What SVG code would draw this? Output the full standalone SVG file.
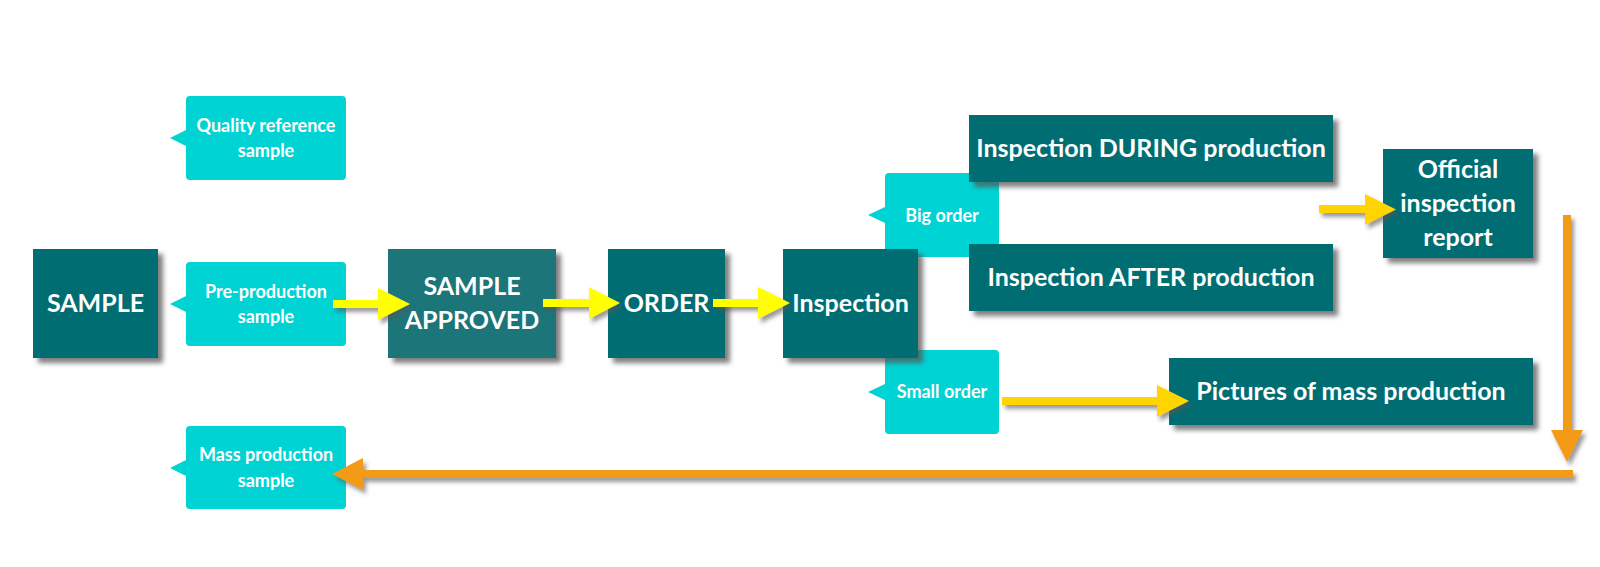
<svg xmlns="http://www.w3.org/2000/svg" width="1600" height="567" viewBox="0 0 1600 567">
  <defs>
    <filter id="sh" x="-10%" y="-20%" width="130%" height="150%">
      <feDropShadow dx="5" dy="5" stdDeviation="2.5" flood-color="#555555" flood-opacity="0.75"/>
    </filter>
    <filter id="ash" x="-10%" y="-30%" width="130%" height="170%">
      <feDropShadow dx="3" dy="4" stdDeviation="2" flood-color="#555555" flood-opacity="0.6"/>
    </filter>
  </defs>
  <style>
    .box { fill: #006d73; filter: url(#sh); }
    .box2 { fill: #1d7479; filter: url(#sh); }
    .call { fill: #00d3d3; }
    .big { font-family: Lato, "Liberation Sans", sans-serif; font-weight: bold; font-size: 25px; fill: #ffffff; text-anchor: middle; }
    .small { font-family: Lato, "Liberation Sans", sans-serif; font-weight: bold; font-size: 18px; fill: #ffffff; text-anchor: middle; }
    .yel { fill: #ffff00; filter: url(#ash); }
    .gold { fill: #ffd400; filter: url(#ash); }
    .org { fill: #f39a17; filter: url(#ash); }
  </style>
  <rect width="1600" height="567" fill="#ffffff"/>

  <g id="quality-ref">
    <path class="call" d="M190,96 H342 Q346,96 346,100 V176 Q346,180 342,180 H190 Q186,180 186,176 V146 L170,138 L186,130 V100 Q186,96 190,96 Z"/>
    <text class="small" x="266" y="132">Quality reference</text>
    <text class="small" x="266" y="157">sample</text>
  </g>

  <g id="pre-production">
    <path class="call" d="M190,262 H342 Q346,262 346,266 V342 Q346,346 342,346 H190 Q186,346 186,342 V312 L170,304 L186,296 V266 Q186,262 190,262 Z"/>
    <text class="small" x="266" y="298">Pre-production</text>
    <text class="small" x="266" y="323">sample</text>
  </g>

  <g id="mass-production-sample">
    <path class="call" d="M190,426 H342 Q346,426 346,430 V505 Q346,509 342,509 H190 Q186,509 186,505 V476 L170,468 L186,460 V430 Q186,426 190,426 Z"/>
    <text class="small" x="266" y="461">Mass production</text>
    <text class="small" x="266" y="487">sample</text>
  </g>

  <g id="big-order">
    <path class="call" d="M889,173 H995 Q999,173 999,177 V253 Q999,257 995,257 H889 Q885,257 885,253 V223 L868,215 L885,207 V177 Q885,173 889,173 Z"/>
    <text class="small" x="942" y="222">Big order</text>
  </g>

  <g id="small-order">
    <path class="call" d="M889,350 H995 Q999,350 999,354 V430 Q999,434 995,434 H889 Q885,434 885,430 V400 L868,392 L885,384 V354 Q885,350 889,350 Z"/>
    <text class="small" x="942" y="398">Small order</text>
  </g>

  <g id="sample">
    <rect class="box" x="33" y="249" width="125" height="109"/>
    <text class="big" x="95.5" y="312">SAMPLE</text>
  </g>

  <g id="sample-approved">
    <rect class="box2" x="388" y="249" width="168" height="109"/>
    <text class="big" x="472" y="295">SAMPLE</text>
    <text class="big" x="472" y="329">APPROVED</text>
  </g>

  <g id="order">
    <rect class="box" x="608" y="249" width="117" height="109"/>
    <text class="big" x="666.5" y="312">ORDER</text>
  </g>

  <g id="inspection">
    <rect class="box" x="783" y="249" width="135" height="109"/>
    <text class="big" x="850.5" y="312">Inspection</text>
  </g>

  <g id="inspection-during">
    <rect class="box" x="969" y="115" width="364" height="67"/>
    <text class="big" x="1151" y="157">Inspection DURING production</text>
  </g>

  <g id="inspection-after">
    <rect class="box" x="969" y="244" width="364" height="67"/>
    <text class="big" x="1151" y="286">Inspection AFTER production</text>
  </g>

  <g id="pictures">
    <rect class="box" x="1169" y="358" width="364" height="67"/>
    <text class="big" x="1351" y="400">Pictures of mass production</text>
  </g>

  <g id="official-report">
    <rect class="box" x="1383" y="149" width="150" height="109"/>
    <text class="big" x="1458" y="178">Official</text>
    <text class="big" x="1458" y="212">inspection</text>
    <text class="big" x="1458" y="246">report</text>
  </g>

  <g id="connectors">
    <path class="yel" d="M333,300 H378 V288 L410,304 L378,320 V308 H333 Z"/>
    <path class="yel" d="M543,299 H589 V287 L620,303 L589,319 V307 H543 Z"/>
    <path class="yel" d="M713,299 H758 V287 L790,303 L758,319 V307 H713 Z"/>
    <path class="gold" d="M1319,205 H1365 V194 L1396,209.5 L1365,225 V213 H1319 Z"/>
    <path class="gold" d="M1002,397 H1157 V385 L1189,401 L1157,417 V405 H1002 Z"/>
    <path class="org" d="M1563,215 H1571 V430 H1583 L1567,462 L1551,430 H1563 Z"/>
    <path class="org" d="M1573,470 V478 H363 V490 L332,474 L363,458 V470 Z"/>
  </g>
</svg>
